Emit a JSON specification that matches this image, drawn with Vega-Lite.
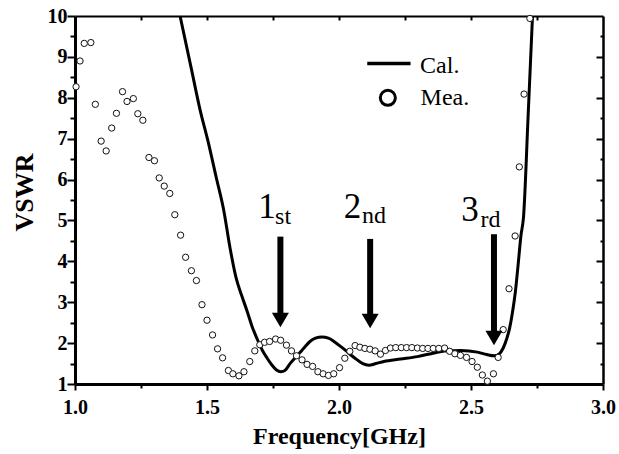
{
  "$schema": "https://vega.github.io/schema/vega-lite/v6.json",
  "width": 528,
  "height": 368,
  "autosize": {"type": "none"},
  "padding": {"left": 75, "top": 16, "right": 16, "bottom": 70},
  "background": "white",
  "config": {"view": {"stroke": null}, "axis": {"grid": false}},
  "datasets": {
    "cal": [
      {"f":1.398,"v":10.0},{"f":1.440,"v":8.73},{"f":1.474,"v":7.70},{"f":1.506,"v":6.88},{"f":1.535,"v":6.05},
      {"f":1.563,"v":5.26},{"f":1.588,"v":4.30},{"f":1.610,"v":3.60},{"f":1.632,"v":3.15},{"f":1.652,"v":2.78},
      {"f":1.670,"v":2.42},{"f":1.690,"v":2.10},{"f":1.710,"v":1.82},{"f":1.728,"v":1.63},{"f":1.745,"v":1.47},
      {"f":1.762,"v":1.35},{"f":1.780,"v":1.30},{"f":1.795,"v":1.33},{"f":1.816,"v":1.51},{"f":1.835,"v":1.65},
      {"f":1.854,"v":1.78},{"f":1.872,"v":1.92},{"f":1.890,"v":2.04},{"f":1.911,"v":2.12},{"f":1.935,"v":2.15},
      {"f":1.960,"v":2.12},{"f":1.981,"v":2.04},{"f":2.006,"v":1.92},{"f":2.025,"v":1.82},{"f":2.045,"v":1.71},
      {"f":2.069,"v":1.59},{"f":2.090,"v":1.50},{"f":2.113,"v":1.46},{"f":2.140,"v":1.50},{"f":2.170,"v":1.55},
      {"f":2.233,"v":1.61},{"f":2.297,"v":1.67},{"f":2.360,"v":1.76},{"f":2.400,"v":1.81},{"f":2.461,"v":1.82},
      {"f":2.524,"v":1.78},{"f":2.560,"v":1.72},{"f":2.588,"v":1.69},{"f":2.606,"v":1.73},{"f":2.622,"v":1.88},
      {"f":2.635,"v":2.10},{"f":2.645,"v":2.33},{"f":2.657,"v":2.75},{"f":2.668,"v":3.25},{"f":2.679,"v":3.95},
      {"f":2.689,"v":4.62},{"f":2.699,"v":5.09},{"f":2.716,"v":7.50},{"f":2.733,"v":10.0}
    ],
    "mea": [
      {"f":1.004,"v":8.27},{"f":1.019,"v":8.90},{"f":1.035,"v":9.33},{"f":1.060,"v":9.35},{"f":1.077,"v":7.84},
      {"f":1.099,"v":6.94},{"f":1.118,"v":6.70},{"f":1.139,"v":7.26},{"f":1.157,"v":7.62},{"f":1.180,"v":8.15},
      {"f":1.197,"v":7.91},{"f":1.221,"v":7.98},{"f":1.238,"v":7.61},{"f":1.257,"v":7.45},{"f":1.280,"v":6.54},
      {"f":1.301,"v":6.46},{"f":1.319,"v":6.04},{"f":1.338,"v":5.84},{"f":1.359,"v":5.66},{"f":1.378,"v":5.14},
      {"f":1.400,"v":4.64},{"f":1.419,"v":4.10},{"f":1.441,"v":3.77},{"f":1.460,"v":3.53},{"f":1.481,"v":2.94},
      {"f":1.500,"v":2.56},{"f":1.521,"v":2.20},{"f":1.540,"v":1.86},{"f":1.559,"v":1.64},{"f":1.581,"v":1.33},
      {"f":1.598,"v":1.25},{"f":1.621,"v":1.20},{"f":1.640,"v":1.30},{"f":1.662,"v":1.55},{"f":1.681,"v":1.81},
      {"f":1.700,"v":1.96},{"f":1.718,"v":2.02},{"f":1.737,"v":2.04},{"f":1.760,"v":2.10},{"f":1.779,"v":2.07},
      {"f":1.801,"v":1.95},{"f":1.820,"v":1.81},{"f":1.839,"v":1.69},{"f":1.860,"v":1.59},{"f":1.879,"v":1.48},
      {"f":1.900,"v":1.43},{"f":1.920,"v":1.30},{"f":1.940,"v":1.25},{"f":1.960,"v":1.21},{"f":1.980,"v":1.25},
      {"f":2.002,"v":1.40},{"f":2.022,"v":1.63},{"f":2.041,"v":1.80},{"f":2.061,"v":1.94},{"f":2.079,"v":1.90},
      {"f":2.098,"v":1.87},{"f":2.117,"v":1.85},{"f":2.137,"v":1.81},{"f":2.157,"v":1.73},{"f":2.176,"v":1.82},
      {"f":2.195,"v":1.88},{"f":2.215,"v":1.89},{"f":2.236,"v":1.89},{"f":2.256,"v":1.89},{"f":2.276,"v":1.89},
      {"f":2.297,"v":1.88},{"f":2.317,"v":1.87},{"f":2.337,"v":1.87},{"f":2.357,"v":1.87},{"f":2.378,"v":1.87},
      {"f":2.400,"v":1.88},{"f":2.419,"v":1.80},{"f":2.439,"v":1.74},{"f":2.460,"v":1.70},{"f":2.483,"v":1.65},
      {"f":2.504,"v":1.55},{"f":2.524,"v":1.41},{"f":2.543,"v":1.22},{"f":2.562,"v":1.07},{"f":2.585,"v":1.25},
      {"f":2.603,"v":1.65},{"f":2.622,"v":2.33},{"f":2.644,"v":3.33},{"f":2.667,"v":4.62},{"f":2.683,"v":6.31},
      {"f":2.701,"v":8.09},{"f":2.723,"v":9.94}
    ],
    "arrows": [
      {"f":1.778,"top":4.604,"head":2.565},
      {"f":2.118,"top":4.548,"head":2.540},
      {"f":2.587,"top":4.663,"head":2.125}
    ],
    "digits": [
      {"f":1.694,"v":5.054,"t":"1"},
      {"f":2.018,"v":5.054,"t":"2"},
      {"f":2.463,"v":4.995,"t":"3"}
    ],
    "suffix": [
      {"f":1.758,"v":4.907,"t":"st"},
      {"f":2.087,"v":4.932,"t":"nd"},
      {"f":2.536,"v":4.849,"t":"rd"}
    ],
    "legline": [
      {"f":2.107,"v":8.838},
      {"f":2.271,"v":8.838}
    ],
    "legpoint": [
      {"f":2.185,"v":8.0}
    ],
    "legtext": [
      {"f":2.307,"v":8.601,"t":"Cal."},
      {"f":2.309,"v":7.82,"t":"Mea."}
    ]
  },
  "layer": [
    {
      "data": {"name": "cal"},
      "mark": {"type": "line", "color": "black", "strokeWidth": 3, "interpolate": "monotone"},
      "encoding": {
        "x": {"field": "f", "type": "quantitative",
          "scale": {"domain": [1, 3], "nice": false, "zero": false},
          "axis": {
            "orient": "bottom",
            "values": [1,1.25,1.5,1.75,2,2.25,2.5,2.75,3],
            "labelExpr": "datum.value % 0.5 == 0 ? format(datum.value, '.1f') : ''",
            "tickSize": {"condition": {"test": "datum.value % 0.5 != 0", "value": 4}, "value": 6},
            "tickWidth": 2, "tickColor": "black",
            "domainWidth": 3, "domainColor": "black",
            "labelFont": "Liberation Serif", "labelFontWeight": "bold", "labelFontSize": 20, "labelColor": "black",
            "labelPadding": 7, "labelFlush": false, "labelOverlap": false,
            "title": "Frequency[GHz]", "titleFont": "Liberation Serif", "titleFontSize": 24,
            "titleFontWeight": "bold", "titleColor": "black", "titleY": 40
          }
        },
        "y": {"field": "v", "type": "quantitative",
          "scale": {"domain": [1, 10], "nice": false, "zero": false},
          "axis": {
            "orient": "left",
            "values": [1,1.5,2,2.5,3,3.5,4,4.5,5,5.5,6,6.5,7,7.5,8,8.5,9,9.5,10],
            "labelExpr": "datum.value % 1 == 0 ? format(datum.value, 'd') : ''",
            "tickSize": {"condition": {"test": "datum.value % 1 != 0", "value": 5}, "value": 8},
            "tickWidth": 2, "tickColor": "black",
            "domainWidth": 3, "domainColor": "black",
            "labelFont": "Liberation Serif", "labelFontWeight": "bold", "labelFontSize": 20, "labelColor": "black",
            "labelPadding": 0, "labelFlush": false, "labelOverlap": false,
            "title": "VSWR", "titleFont": "Liberation Serif", "titleFontSize": 26,
            "titleFontWeight": "bold", "titleColor": "black", "titleX": -38, "titleY": 176
          }
        }
      }
    },
    {
      "data": {"name": "mea"},
      "mark": {"type": "point", "shape": "circle", "size": 40, "filled": true, "fill": "white", "stroke": "#111111", "strokeWidth": 1, "opacity": 1},
      "encoding": {
        "x": {"field": "f", "type": "quantitative",
          "scale": {"domain": [1, 3], "nice": false, "zero": false},
          "axis": {
            "orient": "top",
            "values": [1.25,1.5,1.75,2,2.25,2.5,2.75],
            "labels": false, "tickSize": -4, "tickWidth": 2, "tickColor": "black",
            "domainWidth": 2, "domainColor": "black", "title": null
          }
        },
        "y": {"field": "v", "type": "quantitative",
          "scale": {"domain": [1, 10], "nice": false, "zero": false},
          "axis": {
            "orient": "right",
            "values": [1.5,2,2.5,3,3.5,4,4.5,5,5.5,6,6.5,7,7.5,8,8.5,9,9.5],
            "labels": false,
            "tickSize": {"condition": {"test": "datum.value % 1 != 0", "value": -3}, "value": -7},
            "tickWidth": 2, "tickColor": "black",
            "domainWidth": 2.5, "domainColor": "black", "title": null
          }
        }
      }
    },
    {
      "data": {"name": "arrows"},
      "mark": {"type": "rule", "color": "black", "strokeWidth": 6, "strokeCap": "butt"},
      "encoding": {
        "x": {"field": "f", "type": "quantitative", "axis": null},
        "y": {"field": "top", "type": "quantitative", "axis": null},
        "y2": {"field": "head"}
      }
    },
    {
      "data": {"name": "arrows"},
      "mark": {"type": "point", "shape": "M-1,-0.85L1,-0.85L0,0.85Z", "size": 289, "filled": true, "fill": "black", "strokeWidth": 0, "opacity": 1},
      "encoding": {
        "x": {"field": "f", "type": "quantitative", "axis": null},
        "y": {"field": "head", "type": "quantitative", "axis": null}
      }
    },
    {
      "data": {"name": "digits"},
      "mark": {"type": "text", "font": "Liberation Serif", "fontSize": 35, "align": "left", "baseline": "alphabetic", "color": "black"},
      "encoding": {
        "x": {"field": "f", "type": "quantitative", "axis": null},
        "y": {"field": "v", "type": "quantitative", "axis": null},
        "text": {"field": "t"}
      }
    },
    {
      "data": {"name": "suffix"},
      "mark": {"type": "text", "font": "Liberation Serif", "fontSize": 24, "align": "left", "baseline": "alphabetic", "color": "black"},
      "encoding": {
        "x": {"field": "f", "type": "quantitative", "axis": null},
        "y": {"field": "v", "type": "quantitative", "axis": null},
        "text": {"field": "t"}
      }
    },
    {
      "data": {"name": "legline"},
      "mark": {"type": "line", "color": "black", "strokeWidth": 3.5},
      "encoding": {
        "x": {"field": "f", "type": "quantitative", "axis": null},
        "y": {"field": "v", "type": "quantitative", "axis": null}
      }
    },
    {
      "data": {"name": "legpoint"},
      "mark": {"type": "point", "shape": "circle", "size": 227, "filled": true, "fill": "white", "stroke": "black", "strokeWidth": 3, "opacity": 1},
      "encoding": {
        "x": {"field": "f", "type": "quantitative", "axis": null},
        "y": {"field": "v", "type": "quantitative", "axis": null}
      }
    },
    {
      "data": {"name": "legtext"},
      "mark": {"type": "text", "font": "Liberation Serif", "fontSize": 24, "align": "left", "baseline": "alphabetic", "color": "black"},
      "encoding": {
        "x": {"field": "f", "type": "quantitative", "axis": null},
        "y": {"field": "v", "type": "quantitative", "axis": null},
        "text": {"field": "t"}
      }
    }
  ],
  "resolve": {"axis": {"x": "independent", "y": "independent"}}
}
